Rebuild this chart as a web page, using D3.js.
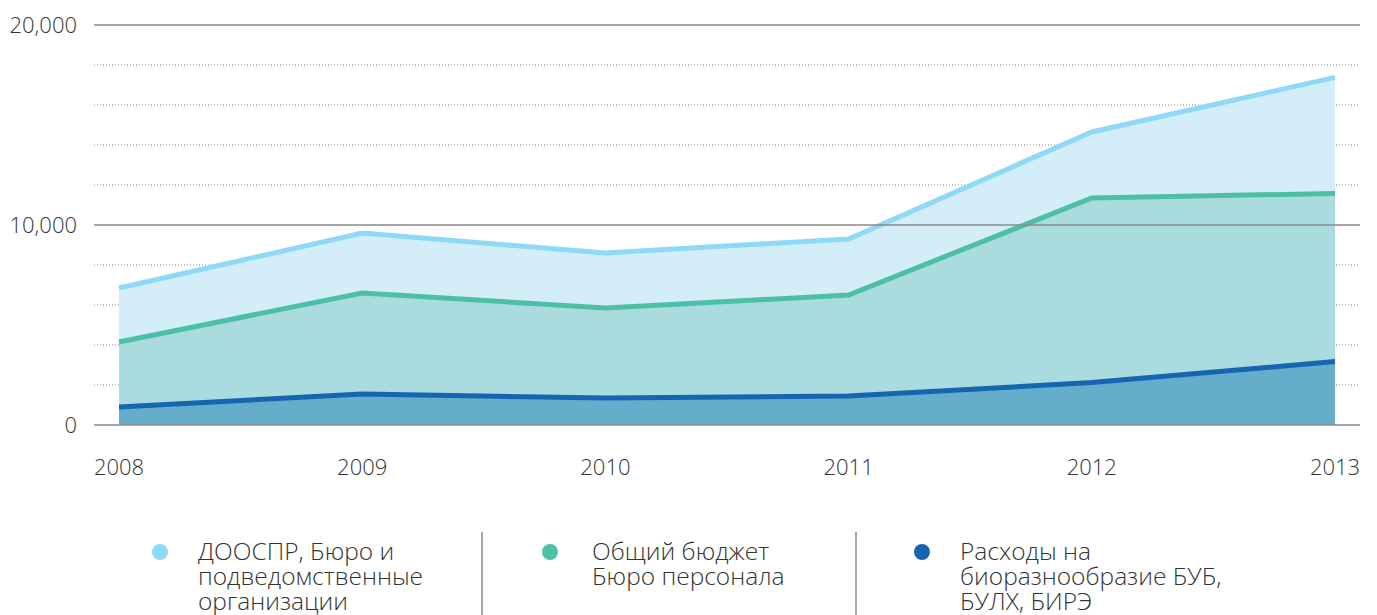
<!DOCTYPE html>
<html><head><meta charset="utf-8">
<script src="https://cdn.jsdelivr.net/npm/d3@7"></script>
<style>body{margin:0;background:#fff;}svg{display:block;font-family:"Open Sans",sans-serif;}</style>
</head><body>
<svg id="c" width="1377" height="615"></svg>
<script>
const years = [2008, 2009, 2010, 2011, 2012, 2013];
const seriesNames = ["ДООСПР, Бюро и подведомственные организации", "Общий бюджет Бюро персонала", "Расходы на биоразнообразие БУБ, БУЛХ, БИРЭ"];
const legendLines = [["ДООСПР, Бюро и", "подведомственные", "организации"], ["Общий бюджет", "Бюро персонала"], ["Расходы на", "биоразнообразие БУБ,", "БУЛХ, БИРЭ"]];
const dooSpr = [6850, 9600, 8600, 9300, 14650, 17380];
const personnel = [4150, 6600, 5850, 6500, 11350, 11580];
const biodiversity = [900, 1550, 1350, 1450, 2120, 3170];
const yTicks = [0, 10000, 20000];
const yMinor = [2000, 4000, 6000, 8000, 12000, 14000, 16000, 18000];

const svg = d3.select("#c");
const x = d3.scaleLinear().domain([2008, 2013]).range([119, 1335]);
const y = d3.scaleLinear().domain([0, 20000]).range([425, 25]);
const gx0 = 94, gx1 = 1360;

// grid
svg.append("g").selectAll("line").data(yMinor).join("line")
  .attr("x1", gx0).attr("x2", gx1).attr("y1", d => y(d)).attr("y2", d => y(d))
  .attr("stroke", "#8a8a8a").attr("stroke-width", 1).attr("stroke-dasharray", "1,2");

const series = [
  {vals: dooSpr, fill: "#d3edf9", line: "#8ed8f8"},
  {vals: personnel, fill: "#aadbde", line: "#4cc0a5"},
  {vals: biodiversity, fill: "#64aecb", line: "#1565b0"}
];
const area = d3.area().x((d, i) => x(years[i])).y0(y(0)).y1(d => y(d));
const line = d3.line().x((d, i) => x(years[i])).y(d => y(d));
series.forEach(s => {
  svg.append("path").attr("d", area(s.vals)).attr("fill", s.fill);
});
series.forEach(s => {
  svg.append("path").attr("d", line(s.vals)).attr("fill", "none").attr("stroke", s.line).attr("stroke-width", 5);
});

svg.append("g").selectAll("line").data(yTicks).join("line")
  .attr("x1", gx0).attr("x2", gx1).attr("y1", d => y(d)).attr("y2", d => y(d))
  .attr("stroke", "#8a8a8a").attr("stroke-width", 1.5);

// axes labels
const fmt = d3.format(",");
svg.append("g").selectAll("text").data(yTicks).join("text")
  .attr("x", 77).attr("y", d => y(d)).attr("dy", "0.35em").attr("text-anchor", "end")
  .attr("font-size", 22).attr("font-weight", 300).attr("fill", "#333").text(d => fmt(d));
svg.append("g").selectAll("text").data(years).join("text")
  .attr("x", d => x(d)).attr("y", 467).attr("dy", "0.35em").attr("text-anchor", "middle")
  .attr("font-size", 22).attr("font-weight", 300).attr("fill", "#333").text(d => d);

// legend
const legX = [160, 550, 922];
const legTextX = [198, 592, 960];
legendLines.forEach((lines, i) => {
  svg.append("circle").attr("cx", legX[i]).attr("cy", 552).attr("r", 8).attr("fill", series[i].line);
  lines.forEach((l, j) => svg.append("text").attr("x", legTextX[i]).attr("y", 560 + j * 25)
    .attr("font-size", 24.5).attr("font-weight", 300).attr("fill", "#333").text(l));
});
[482, 856].forEach(sx => svg.append("line").attr("x1", sx).attr("x2", sx).attr("y1", 532).attr("y2", 615)
  .attr("stroke", "#a8a8a8").attr("stroke-width", 2));
</script>
</body></html>
